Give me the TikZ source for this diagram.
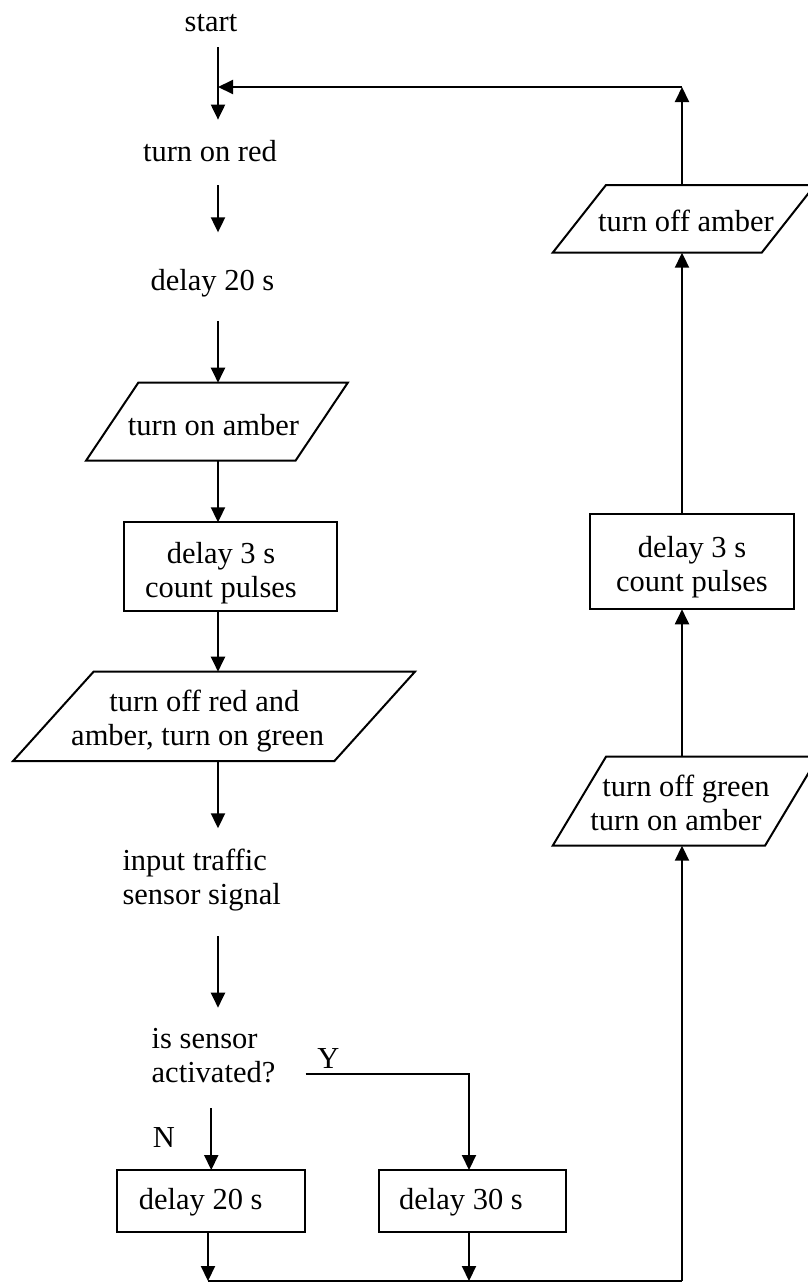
\documentclass[tikz,border=0pt]{standalone}
\usepackage{fontspec}
\setmainfont{Liberation Serif}
\usetikzlibrary{arrows.meta,calc}
\newcommand{\pgram}[2]{\draw[shp] ([xshift=#2/2]#1.north west) -- ([xshift=#2/2]#1.north east) -- ([xshift=-#2/2]#1.south east) -- ([xshift=-#2/2]#1.south west) -- cycle;}
\tikzset{
 ln/.style={line width=2pt},
 arr/.style={ln, -{Triangle[length=15pt,width=14pt]}},
 shp/.style={line width=2pt, line join=miter},
 pgbox/.style={inner sep=0pt, outer sep=0pt},
 rbox/.style={draw, line width=2pt, inner sep=0pt, outer sep=0pt},
 txt/.style={inner sep=0pt, outer sep=0pt, font=\fontsize{30.5}{34}\selectfont},
}
\begin{document}
\begin{tikzpicture}[x=1pt,y=-1pt]
\fill[white] (0,0) rectangle (807,1282);
\useasboundingbox (0,0) rectangle (807,1282);
\coordinate (axL) at (218,0);
\coordinate (axR) at (682,0);

% left column
\node[txt, anchor=base] (tStart) at (211,31) {start};
\node[txt, anchor=base] (tRed) at (210,161.5) {turn on red};
\node[txt, anchor=base] (tDelA) at (212.5,290.5) {delay 20 s};

\node[pgbox, minimum width=209.5pt, minimum height=78pt] (pAmb) at (216.9,421.7) {};
\pgram{pAmb}{52.3pt}
\node[txt, anchor=base] (tAmb) at (213.5,435) {turn on amber};

\node[rbox, minimum width=212.7pt, minimum height=88.7pt] (R1) at (230.35,566.65) {};
\node[txt, align=center] (tR1) at (221,573.2) {\strut delay 3 s\\\strut count pulses};

\node[pgbox, minimum width=321.35pt, minimum height=89.3pt] (pRA) at (214,716.35) {};
\pgram{pRA}{80.5pt}
\node[txt, align=center] (tRA) at (201,721.2) {\strut\hspace*{6.7pt}turn off red and\\\strut amber, turn on green\hspace*{6.7pt}};

\node[txt, align=left, anchor=west] (tInput) at (122.5,880.7) {\strut input traffic\\\strut sensor signal};

\node[txt, align=left, anchor=west] (tSensor) at (151.7,1058.5) {\strut is sensor\\\strut activated?};

\node[txt, anchor=base] (tY) at (328.3,1068.3) {Y};
\node[txt, anchor=base] (tN) at (164,1147) {N};

\node[rbox, minimum width=187.9pt, minimum height=61.7pt] (R3) at (211.25,1200.85) {};
\node[txt, anchor=base] (tR3) at (200.7,1209) {delay 20 s};
\node[rbox, minimum width=187.2pt, minimum height=61.7pt] (R4) at (472.4,1200.85) {};
\node[txt, anchor=base] (tR4) at (461,1209) {delay 30 s};

% right column
\node[pgbox, minimum width=209pt, minimum height=67.7pt] (pOffAmb) at (683.85,218.85) {};
\pgram{pOffAmb}{53.3pt}
\node[txt, anchor=base] (tOffAmb) at (686,231.5) {turn off amber};

\node[rbox, minimum width=204pt, minimum height=95.3pt] (R2) at (692,561.65) {};
\node[txt, align=center] (tR2) at (692,567.7) {\strut delay 3 s\\\strut count pulses};

\node[pgbox, minimum width=212.3pt, minimum height=89pt] (pOffGreen) at (685.5,801.2) {};
\pgram{pOffGreen}{53.3pt}
\node[txt, align=center] (tOffGreen) at (681,806.2) {\strut\hspace*{10pt}turn off green\\\strut turn on amber\hspace*{10pt}};

% junctions
\coordinate (C1) at (682,87);
\coordinate (J) at (218,87);
\coordinate (B1) at (208,1281);
\coordinate (B2) at (469,1281);
\coordinate (B3) at (682,1281);

% connectors
\draw[arr, shorten <=16pt, shorten >=20.7pt] (axL |- tStart.south) -- (axL |- tRed.north);
\draw[arr, shorten <=23.5pt, shorten >=37pt] (axL |- tRed.south) -- (axL |- tDelA.north);
\draw[arr, shorten <=23.9pt] (axL |- tDelA.south) -- (axL |- pAmb.north);
\draw[arr] (axL |- pAmb.south) -- (axL |- R1.north);
\draw[arr] (axL |- R1.south) -- (axL |- pRA.north);
\draw[arr, shorten >=18.4pt] (axL |- pRA.south) -- (axL |- tInput.north);
\draw[arr, shorten <=21.6pt, shorten >=16.8pt] (axL |- tInput.south) -- (axL |- tSensor.north);
\draw[arr, shorten <=15.5pt] (R3.north |- tSensor.south) -- (R3.north);
\draw[arr] ([shift={(30.4pt,-15.8pt)}]tSensor.east) -| ([xshift=-3.4pt]R4.north);
\draw[arr] (B1 |- R3.south) -- (B1);
\draw[arr] (B2 |- R4.south) -- (B2);
\draw[ln] (B1) -- (B3);
\draw[arr] (B3) -- (axR |- pOffGreen.south);
\draw[arr] (axR |- pOffGreen.north) -- (axR |- R2.south);
\draw[arr] (axR |- R2.north) -- (axR |- pOffAmb.south);
\draw[arr] (axR |- pOffAmb.north) -- (C1);
\draw[arr] (C1) -- (J);
\end{tikzpicture}
\end{document}
